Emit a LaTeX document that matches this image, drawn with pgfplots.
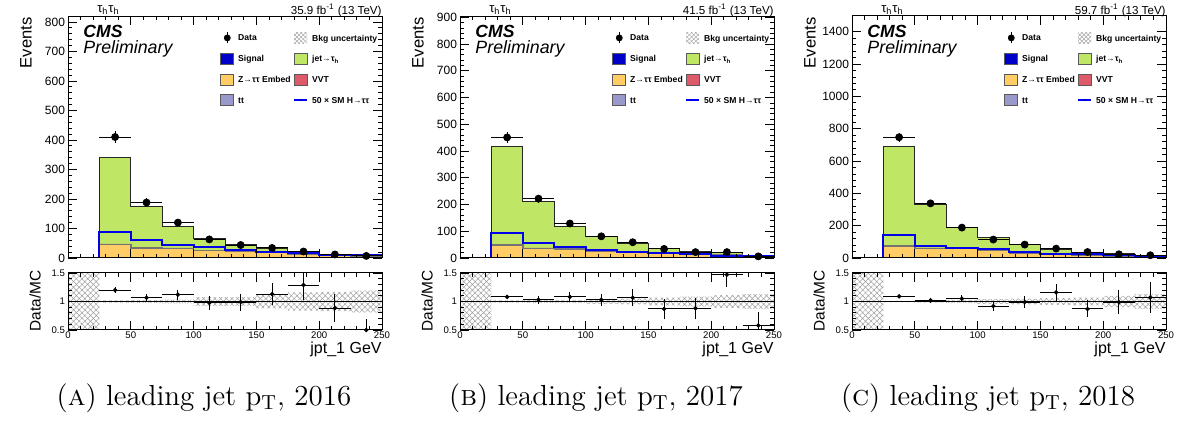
\documentclass[border=0pt]{standalone}
\usepackage{fontspec}
\usepackage{pgfplots}
\pgfplotsset{compat=1.18}
\usepackage{pgfplotstable}
\usepgfplotslibrary{fillbetween}
\usetikzlibrary{patterns.meta}
\newfontfamily\helv{Liberation Sans}
\definecolor{jetgreen}{RGB}{192,230,102}
\definecolor{embedc}{RGB}{255,204,102}
\definecolor{vvtc}{RGB}{222,90,106}
\definecolor{ttc}{RGB}{153,153,204}
\definecolor{sigblue}{RGB}{0,0,200}
\definecolor{smhc}{RGB}{0,0,235}

% ---------- 2016 ----------
\pgfplotstableread{
x emb tt vvt jet smh unc
0 0 0 0 0 0 0.5
25 45 2 1 294 88 0.02
50 33 2 1 138 61 0.025
75 31 2 1 72 44 0.035
100 25 1.5 0.5 38 37 0.075
125 22 1 0.5 21.5 26 0.075
150 18 1 0.5 11.5 20 0.12
175 12 1 0.5 5.5 16 0.16
200 9 0.5 0.3 3.2 11 0.17
225 6 0.5 0.3 2.2 9 0.19
250 6 0.5 0.3 2.2 9 0.19
}\histA
\pgfplotstableread{
x d de r re
37.5 410 20.2 1.2 0.05
62.5 188 13.7 1.066 0.07
87.5 120 11 1.12 0.09
112.5 63 7.9 0.976 0.12
137.5 44 6.6 0.99 0.15
162.5 34 5.8 1.13 0.2
187.5 22 4.7 1.29 0.27
212.5 12 3.5 0.885 0.25
237.5 7 2.6 0.5 0.2
}\dataA
% ---------- 2017 ----------
\pgfplotstableread{
x emb tt vvt jet smh unc
0 0 0 0 0 0 0.5
25 47 2.5 1 365.5 94 0.02
50 35 2 1 175 57 0.025
75 32 2 1 84 41 0.03
100 26 1.5 0.5 53 31 0.04
125 20 1 0.5 32.5 22 0.05
150 16 1 0.5 19.5 19 0.07
175 12 1 0.5 12.5 14 0.085
200 10 3 0.5 5.5 9 0.11
225 6 0.5 0.3 4.2 7 0.13
250 6 0.5 0.3 4.2 7 0.13
}\histB
\pgfplotstableread{
x d de r re
37.5 451 21.2 1.08 0.04
62.5 222 14.9 1.03 0.07
87.5 129 11.4 1.08 0.09
112.5 81 9 1.03 0.11
137.5 59 7.7 1.066 0.15
162.5 34 5.8 0.87 0.18
187.5 22 4.7 0.88 0.19
212.5 22 4.7 1.47 0.21
237.5 6 2.4 0.58 0.23
}\dataB
% ---------- 2018 ----------
\pgfplotstableread{
x emb tt vvt jet smh unc
0 0 0 0 0 0 0.5
25 74 4 2 607 140 0.012
50 58 3 1.5 271.5 74 0.018
75 58 3 1 124 64 0.03
100 47 2 1 74 54 0.04
125 31 1.5 0.5 50 37 0.05
150 23 1.5 0.5 29 27 0.06
175 17 1 0.5 18.5 23 0.07
200 12 1 0.5 13.5 16 0.1
225 6 0.5 0.3 5.2 6 0.13
250 6 0.5 0.3 5.2 6 0.13
}\histC
\pgfplotstableread{
x d de r re
37.5 747 27.3 1.09 0.03
62.5 338 18.4 1.02 0.05
87.5 188 13.7 1.05 0.06
112.5 114 10.7 0.92 0.085
137.5 83 9.1 0.99 0.1
162.5 58 7.6 1.16 0.15
187.5 37 6.1 0.87 0.15
212.5 23 4.8 0.99 0.21
237.5 17 4.1 1.07 0.27
}\dataC

\tikzset{toplab/.style={font=\helv\fontsize{5.8}{6}\selectfont, inner sep=0pt}}
\pgfplotsset{
 legbox/.style={legend image code/.code={\path[fill=#1, draw=black!65, line width=0.4pt] (0pt,-2.75pt) rectangle (6.5pt,2.75pt);}},
 legunc/.style={legend image code/.code={\path[draw=none, fill=none] (0pt,-2.75pt) rectangle (6.5pt,2.75pt); \path[draw=none, pattern={Hatch[angle=45,distance=1.5pt,line width=0.25pt]}, pattern color=gray!70] (0pt,-2.75pt) rectangle (6.5pt,2.75pt);}},
 legdata/.style={legend image code/.code={\path[draw=none, fill=none] (0pt,-2.75pt) rectangle (6.5pt,2.75pt); \draw[black,line width=0.5pt] (3.25pt,-2.75pt)--(3.25pt,2.75pt); \fill[black] (3.25pt,0pt) circle[radius=1.5pt];}},
 legline/.style={legend image code/.code={\path[draw=none, fill=none] (0pt,-2.75pt) rectangle (6.5pt,2.75pt); \draw[smhc,line width=1pt] (0pt,0pt)--(6.5pt,0pt);}},
 common/.style={
  scale only axis, width=157pt, anchor=south west,
  xmin=0, xmax=250, xtick={0,50,...,250}, minor x tick num=4, minor y tick num=4,
  tick align=inside, xtick pos=both, ytick pos=both, yticklabel pos=left, xticklabel pos=lower,
  major tick length=4.5pt, minor tick length=2.2pt,
  tick style={black, line width=0.4pt}, axis line style={line width=0.5pt},
  axis on top, clip mode=individual, scaled y ticks=false,
  /pgf/number format/1000 sep={}, /pgf/number format/assume math mode=true,
 },
 mainstyle/.style={common, height=121pt, ymin=0, xticklabels={},
  tick label style={font=\helv\fontsize{6}{7}\selectfont},
  yticklabel style={inner sep=1.3pt},
  ylabel={Events},
  ylabel style={at={(rel axis cs:-0.134,0.996)}, anchor=east, inner sep=0pt, font=\helv\fontsize{8.3}{9}\selectfont},
  legend columns=2, legend cell align=left,
  legend style={draw=none, fill=none, at={(0.484,0.936)}, anchor=north west,
    font=\helv\bfseries\fontsize{4.3}{5}\selectfont,
    nodes={inner sep=0pt, text depth=0pt}, column sep=2pt, row sep=4.5pt, inner sep=0pt},
 },
 ratiostyle/.style={common, height=28.5pt, ymin=0.5, ymax=1.5, ytick={0.5,1,1.5},
  tick label style={font=\helv\fontsize{4.8}{6}\selectfont},
  yticklabel style={inner sep=1.3pt},
  xticklabel style={inner sep=0.6pt},
  xlabel={jpt\_1 GeV},
  xlabel style={at={(rel axis cs:1,-0.409)}, anchor=base east, inner sep=0pt, font=\helv\fontsize{8}{9}\selectfont},
  ylabel={Data/MC},
  ylabel style={at={(rel axis cs:-0.105,1.05)}, anchor=east, inner sep=0pt, font=\helv\fontsize{7.7}{9}\selectfont},
 },
}

% #1 x offset, #2 tag, #3 ymax, #4 yticks, #5 lumi, #6 letter, #7 year, #8 hist table, #9 data table
\newcommand{\panel}[9]{%
\begin{axis}[mainstyle, at={(#1,82.5pt)}, ymax=#3, ytick={#4}]
 \addplot[const plot, fill=jetgreen, draw=black!85, line width=0.5pt, forget plot] table[x=x, y expr=\thisrow{emb}+\thisrow{tt}+\thisrow{vvt}+\thisrow{jet}] {#8} \closedcycle;
 \addplot[const plot, fill=vvtc, draw=black!55, line width=0.3pt, forget plot] table[x=x, y expr=\thisrow{emb}+\thisrow{tt}+\thisrow{vvt}] {#8} \closedcycle;
 \addplot[const plot, fill=ttc, draw=black!55, line width=0.3pt, forget plot] table[x=x, y expr=\thisrow{emb}+\thisrow{tt}] {#8} \closedcycle;
 \addplot[const plot, fill=embedc, draw=black!55, line width=0.4pt, forget plot] table[x=x, y=emb] {#8} \closedcycle;
 \addplot[const plot, draw=none, name path=up#2, forget plot] table[x=x, y expr=(\thisrow{emb}+\thisrow{tt}+\thisrow{vvt}+\thisrow{jet})*(1+\thisrow{unc})] {#8};
 \addplot[const plot, draw=none, name path=dn#2, forget plot] table[x=x, y expr=(\thisrow{emb}+\thisrow{tt}+\thisrow{vvt}+\thisrow{jet})*(1-\thisrow{unc})] {#8};
 \addplot[pattern={Hatch[angle=45,distance=1.4pt,line width=0.3pt]}, pattern color=gray!80, draw=none, forget plot] fill between[of=up#2 and dn#2, on layer=main];
 \addplot[const plot, draw=smhc, line width=1pt, forget plot] table[x=x, y=smh] {#8};
 \addplot[only marks, mark=*, mark size=1.75pt, black, forget plot,
   error bars/.cd, x dir=both, x fixed=12.5, y dir=both, y explicit, error mark=none,
   error bar style={line width=0.5pt, black}] table[x=x, y=d, y error=de] {#9};
 \node[anchor=base west, font=\helv\fontsize{6.5}{7}\selectfont, inner sep=0pt] at (rel axis cs:0.092,1.0165) {τ\textsubscript{h}τ\textsubscript{h}};
 \node[toplab, anchor=base east] at (rel axis cs:1,1.006) {#5};
 \node[anchor=base west, font=\helv\bfseries\itshape\fontsize{8.8}{9}\selectfont, inner sep=0pt] at (rel axis cs:0.048,0.913) {CMS};
 \node[anchor=base west, font=\helv\itshape\fontsize{8.9}{9}\selectfont, inner sep=0pt] at (rel axis cs:0.048,0.847) {Preliminary};
 \addlegendimage{legdata}\addlegendentry{\makebox[25.5pt][l]{Data}}
 \addlegendimage{legunc}\addlegendentry{Bkg uncertainty}
 \addlegendimage{legbox=sigblue}\addlegendentry{\makebox[25.5pt][l]{Signal}}
 \addlegendimage{legbox=jetgreen}\addlegendentry{jet→τ\textsubscript{h}}
 \addlegendimage{legbox=embedc}\addlegendentry{\makebox[25.5pt][l]{Z→ττ Embed}}
 \addlegendimage{legbox=vvtc}\addlegendentry{VVT}
 \addlegendimage{legbox=ttc}\addlegendentry{\makebox[25.5pt][l]{tt}}
 \addlegendimage{legline}\addlegendentry{50 × SM H→ττ}
\end{axis}
\begin{axis}[ratiostyle, at={(#1,46.5pt)}]
 \addplot[const plot, draw=none, name path=rup#2, forget plot] table[x=x, y expr=1+\thisrow{unc}] {#8};
 \addplot[const plot, draw=none, name path=rdn#2, forget plot] table[x=x, y expr=1-\thisrow{unc}] {#8};
 \addplot[pattern={Hatch[angle=45,distance=2pt,line width=0.25pt]}, pattern color=gray!75, draw=none, forget plot] fill between[of=rup#2 and rdn#2];
 \addplot[black, line width=0.5pt, forget plot] coordinates {(0,1) (250,1)};
 \addplot[only marks, mark=*, mark size=0.9pt, black, forget plot,
   error bars/.cd, x dir=both, x fixed=12.5, y dir=both, y explicit, error mark=none,
   error bar style={line width=0.45pt, black}] table[x=x, y=r, y error=re] {#9};
\end{axis}
\node[anchor=base, font=\fontsize{14.5}{17}\selectfont, inner sep=0pt] at ({#1+68pt},9pt) {(\textsc{#6}) leading jet p\textsubscript{T}, #7};
}

\begin{document}
\begin{tikzpicture}
\panel{34pt}{A}{820}{0,100,...,800}{35.9 fb\textsuperscript{-1} (13 TeV)}{a}{2016}{\histA}{\dataA}
\panel{230pt}{B}{905}{0,100,...,900}{41.5 fb\textsuperscript{-1} (13 TeV)}{b}{2017}{\histB}{\dataB}
\panel{426pt}{C}{1497}{0,200,...,1400}{59.7 fb\textsuperscript{-1} (13 TeV)}{c}{2018}{\histC}{\dataC}
\pgfresetboundingbox
\path[use as bounding box] (0pt,0pt) rectangle (591.5pt,211.5pt);
\end{tikzpicture}
\end{document}
